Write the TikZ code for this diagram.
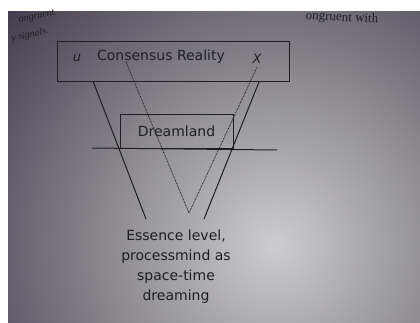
\documentclass[tikz,border=0pt]{standalone}
\usepackage{fontspec}
\setmainfont{Liberation Serif}
\newfontfamily\diagfont{DejaVu Sans}
\definecolor{ink}{HTML}{1E1E24}
\definecolor{pagelight}{HTML}{CDCDD0}
\definecolor{pagedark}{HTML}{3E3748}

\begin{document}
\begin{tikzpicture}[
    x=1pt, y=-1pt,
    box/.style={draw=ink, line width=1pt, inner sep=0pt},
    diagtext/.style={text=ink, font=\diagfont\fontsize{14}{20}\selectfont},
    varname/.style={text=ink, font=\diagfont\itshape\fontsize{13}{16}\selectfont},
    fragment/.style={text=ink, inner sep=0pt, font=\fontsize{13}{15}\selectfont},
    solidline/.style={draw=ink, line width=1pt},
    dotline/.style={draw=ink, line width=0.8pt, dash pattern=on 0.8pt off 0.8pt}
]
    % Photographed page
    \useasboundingbox (0,0) rectangle (420,322);
    \fill [white] (0,0) rectangle (420,322);
    \begin{scope}
        \clip (8,11) rectangle (420,322);
        \shade [inner color=pagelight, outer color=pagedark] (275,245) circle (370);
    \end{scope}
    \node (fragtr) [fragment, rotate=-3] at (342,18) {ongruent with};
    \node (fragtl) [fragment, rotate=12, font=\itshape\fontsize{10}{12}\selectfont] at (38,17) {ongruent.};
    \node (fragsig) [fragment, rotate=12, font=\itshape\fontsize{10}{12}\selectfont] at (30,35) {y signals.};

    % Consensus Reality box
    \node (reality) [box, minimum width=232pt, minimum height=40pt] at (173,61) {};
    \node (crtext) [diagtext] at (161,57) {Consensus Reality};
    \node (u) [varname] at (77,58) {u};
    \node (X) [varname] at (257,59) {X};

    % Dreamland box
    \node (dream) [box, diagtext, minimum width=113pt, minimum height=34pt] at (176.5,131) {Dreamland};

    % Essence level
    \node (essence) [diagtext, align=center] at (176,267) {Essence level,\\processmind as\\space-time\\dreaming};

    % Coordinates
    \coordinate (hl) at (92,148);
    \coordinate (hr) at (277,150);
    \coordinate (vlt) at (93,81);
    \coordinate (vlb) at (146,219);
    \coordinate (vrt) at (259,82);
    \coordinate (vrb) at (204,219);
    \coordinate (cs) at (126,62);
    \coordinate (tip) at (189,213);

    % Outer funnel and ground line
    \draw [solidline] (hl) -- (hr);
    \draw [solidline] (vlt) -- (vlb);
    \draw [solidline] (vrt) -- (vrb);

    % Dotted lines
    \draw [dotline] (cs) -- (tip);
    \draw [dotline] (X.south) -- (tip);
\end{tikzpicture}
\end{document}
